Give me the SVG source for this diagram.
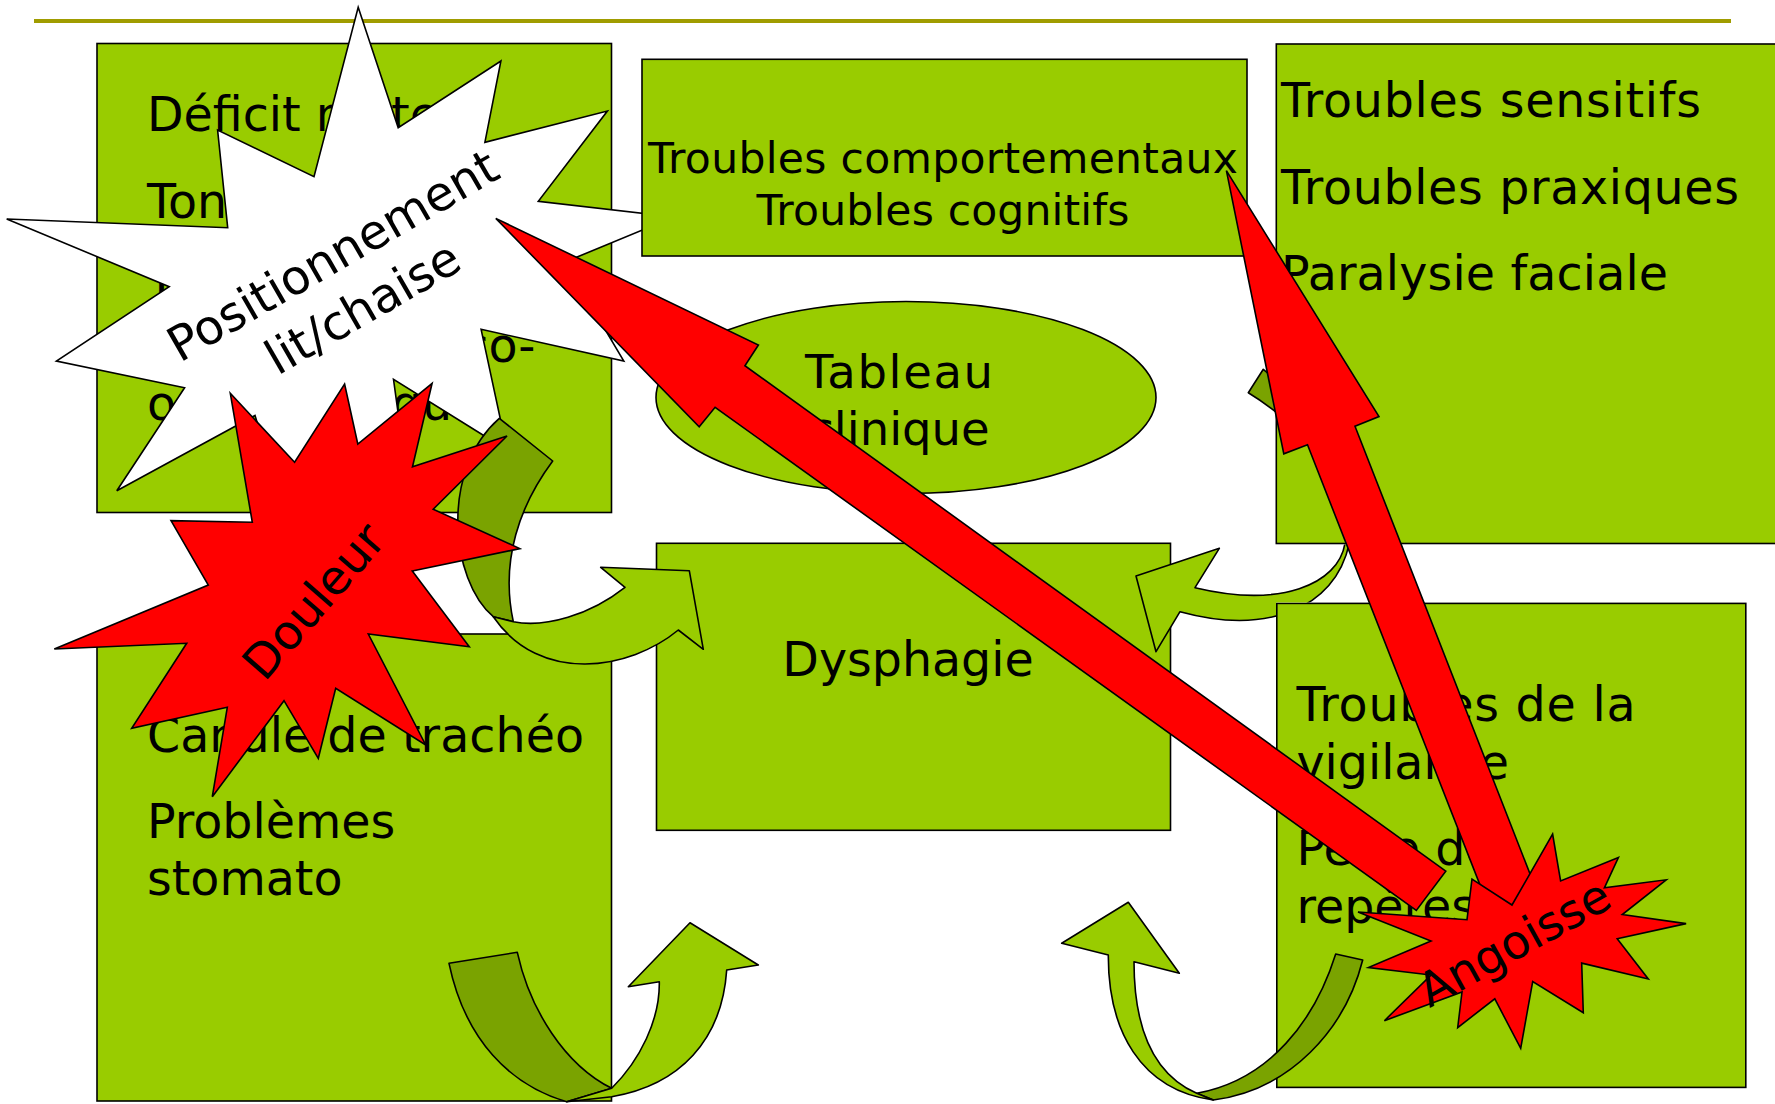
<svg xmlns="http://www.w3.org/2000/svg" width="1775" height="1104" viewBox="0 0 1775 1104">
<style>
.box{fill:#99cc00;stroke:#000;stroke-width:1.6}
.t{font-family:"DejaVu Sans",Verdana,sans-serif;fill:#000;font-size:47.5px}
.lg{fill:#99cc00;stroke:#000;stroke-width:1.6;stroke-linejoin:round}
.dg{fill:#7aa300;stroke:#000;stroke-width:1.6;stroke-linejoin:round}
.red{fill:#ff0000;stroke:#000;stroke-width:1.6}
.wht{fill:#ffffff;stroke:#000;stroke-width:1.6}
</style>
<defs>
<clipPath id="clipB" clipPathUnits="userSpaceOnUse">
<path clip-rule="evenodd" d="M0,0H1775V1104H0Z M1275.5,43H1800V544.5H1275.5Z M1276,602.5H1747V1088H1276Z"/>
</clipPath>
</defs>
<rect x="0" y="0" width="1775" height="1104" fill="#ffffff"/>
<line x1="34" y1="21" x2="1731" y2="21" stroke="#a09c00" stroke-width="4"/>

<g id="node-deficit">
<rect class="box" x="97" y="43.5" width="514.5" height="469"/>
<text class="t" x="147" y="131">Déficit moteur</text>
<text class="t" x="147" y="218">Tonus</text>
<text class="t" x="147" y="305">Troubles de la</text>
<text class="t" x="147" y="362">motricité bucco-</text>
<text class="t" x="147" y="420">oesophagique</text>
</g>

<g id="node-canule">
<rect class="box" x="97" y="634" width="514.5" height="467"/>
<text class="t" x="147" y="752" textLength="437">Canule de trachéo</text>
<text class="t" x="147" y="838">Problèmes</text>
<text class="t" x="147" y="895">stomato</text>
</g>

<g id="node-dysphagie">
<rect class="box" x="656.5" y="543.3" width="514" height="287"/>
<text class="t" x="908" y="676" text-anchor="middle">Dysphagie</text>
</g>

<g id="node-tableau">
<ellipse class="box" cx="906" cy="397.5" rx="250" ry="96"/>
<text class="t" x="899" y="388" text-anchor="middle" style="font-size:46.5px" textLength="188">Tableau</text>
<text class="t" x="899" y="445" text-anchor="middle" style="font-size:46.5px">clinique</text>
</g>

<g id="node-sensitifs">
<rect class="box" x="1276.3" y="44" width="520" height="499.5"/>
<text class="t" x="1281" y="117" textLength="420">Troubles sensitifs</text>
<text class="t" x="1281" y="204" textLength="458">Troubles praxiques</text>
<text class="t" x="1281" y="290" textLength="387">Paralysie faciale</text>
</g>

<g id="node-vigilance">
<rect class="box" x="1276.8" y="603.4" width="469" height="484"/>
<text class="t" x="1296.5" y="721" textLength="339">Troubles de la</text>
<text class="t" x="1296.5" y="778.5">vigilance</text>
<text class="t" x="1296.5" y="865">Perte de</text>
<text class="t" x="1296.5" y="922.5">repères</text>
</g>

<g id="node-positionnement">
<polygon class="wht" points="358.2,7.3 398.2,127.7 500.9,61 484.9,142.3 607.4,111 538.3,201.3 674,217 565,262 623.8,361 481.1,329.3 507,450 393.5,379.3 410,500 340,455 290,530 255,415.5 116.8,490.7 184.6,387.7 56.4,361 169.2,286.7 6.7,219 227.7,227.7 217.6,130 314,176.7"/>
<g transform="translate(356,296) rotate(-30)">
<text class="t" x="0" y="-30" text-anchor="middle" style="font-size:48px">Positionnement</text>
<text class="t" x="0" y="30" text-anchor="middle" style="font-size:48px">lit/chaise</text>
</g>
</g>

<g id="node-comportementaux">
<rect class="box" x="642" y="59.3" width="605" height="196.7"/>
<text class="t" x="943" y="173.3" text-anchor="middle" style="font-size:42.5px" textLength="590">Troubles comportementaux</text>
<text class="t" x="943" y="225" text-anchor="middle" style="font-size:42.5px" textLength="373">Troubles cognitifs</text>
</g>

<g id="connectors">
<g id="arrow-a">
<path class="dg" d="M499.3,418.3 L552.7,461 C520,505 500,560 513.3,621.7 L493.3,616.7 C450,580 440,470 499.3,418.3 Z"/>
<path class="lg" d="M513.3,621.7 C545,628 590,615 625,587.3 L600.7,567.3 L689.3,570.7 L703.3,649.3 L678.3,630 C630,670 540,685 493.3,616.7 Z"/>
</g>
<g id="arrow-b" clip-path="url(#clipB)">
<path class="dg" d="M1263.3,369.3 L1248.3,392.7 Q1262,401 1276,412 L1295,400 Q1280,383 1263.3,369.3 Z"/>
<path class="lg" d="M1345,543.3 C1338,585 1280,608 1195,587.7 L1219.3,548.3 L1136,576 L1156,651.7 L1180,611.7 C1265,635 1335,610 1349.3,543.3 Z"/>
</g>
<g id="arrow-c">
<path class="dg" d="M449,963.3 L517.3,952.3 C530,1010 565,1065 611.7,1088.3 L566.7,1101.7 C510,1085 465,1040 449,963.3 Z"/>
<path class="lg" d="M611.7,1088.3 C640,1060 660,1020 659.3,981.7 L628.3,986.7 L690,922.7 L758.3,965 L726.7,970 C722,1040 680,1085 611.7,1096.7 L566.7,1101.7 Z"/>
</g>
<g id="arrow-d">
<path class="dg" d="M1335.7,954 L1362.7,960 C1345,1030 1290,1090 1213.3,1100 L1196.7,1093.3 C1270,1080 1315,1020 1335.7,954 Z"/>
<path class="lg" d="M1196.7,1093.3 C1155,1075 1134,1030 1134,961.7 L1179.3,973.3 L1128.3,902.3 L1061.7,943.3 L1108.3,955 C1108,1030 1140,1090 1213.3,1100 Z"/>
</g>
<path id="red-arrow-1" class="red" d="M495.8,218.4 L758.4,345 L744.9,365.7 L1445.8,871.2 L1416.3,910.4 L715.1,407.3 L699.2,426.7 Z"/>
<path id="red-arrow-2" class="red" d="M1226.4,170.7 L1379,416.5 L1355,426.2 L1538.6,895.8 L1492,915.6 L1307.5,444.8 L1283.8,453.8 Z"/>
</g>

<g id="node-douleur">
<polygon class="red" points="230.3,393.3 294.6,462.3 344.6,384 357.8,444 432.1,383.3 412.5,466.7 507,436 433.2,509.3 519.8,548.6 412.3,571 469.3,646.7 368.3,634 425.7,745 335.7,688.3 318.3,758.3 284,700.7 212.3,796.7 227.3,707.3 131.7,728.3 186.7,643.3 54.3,649 208.3,585 171,520.7 252.3,522.3"/>
<text class="t" x="0" y="0" text-anchor="middle" style="font-size:47.5px" transform="translate(326,612) rotate(-49)">Douleur</text>
</g>

<g id="node-angoisse">
<polygon class="red" points="1552.6,834 1560.6,880.9 1618.4,857.6 1604.4,887.8 1666.2,879.8 1622.3,914.5 1686.1,923.6 1617.2,938.8 1648.3,979 1581.7,963.1 1583.3,1012.7 1532.7,981.5 1520.7,1048.4 1494.8,998.8 1457.7,1027.6 1462,992 1384.4,1020.7 1431,975 1368.4,967.6 1431,941 1358,912 1467,919.7 1472,879 1512,905"/>
<text class="t" x="0" y="0" text-anchor="middle" style="font-size:47px" transform="translate(1522,957) rotate(-29)">Angoisse</text>
</g>
</svg>
